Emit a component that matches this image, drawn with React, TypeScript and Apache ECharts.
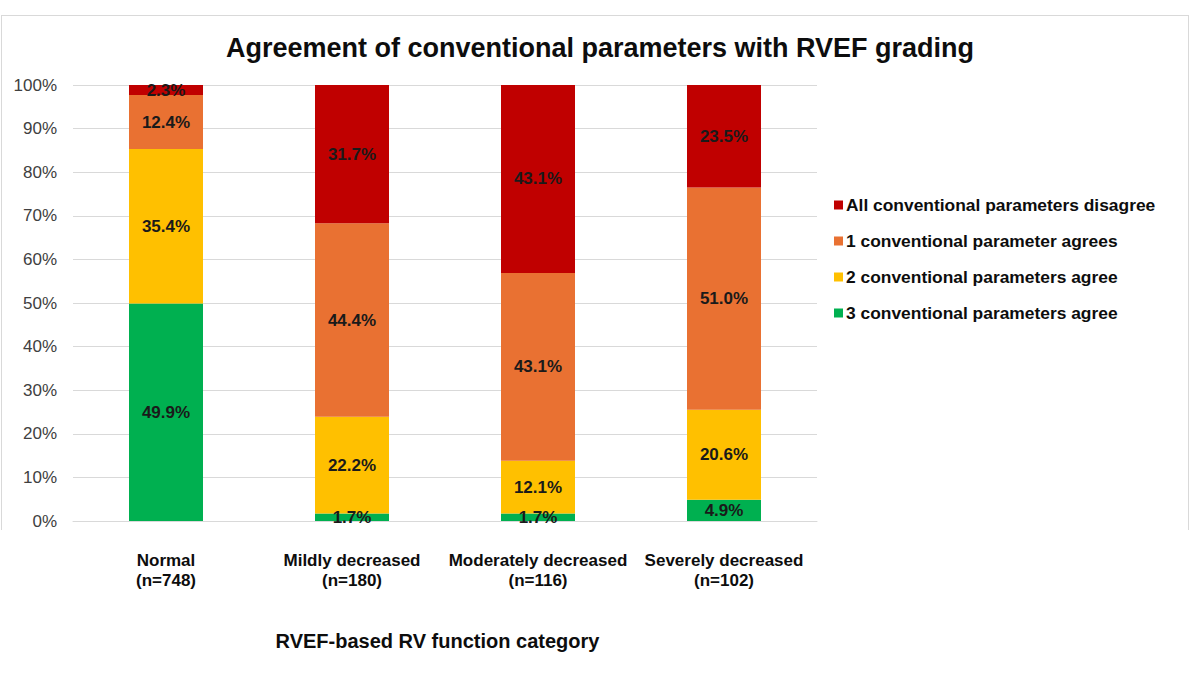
import React, { useEffect, useRef } from "react";
import * as echarts from "echarts";

const categories = [
  "Normal\n(n=748)",
  "Mildly decreased\n(n=180)",
  "Moderately decreased\n(n=116)",
  "Severely decreased\n(n=102)",
];
const threeAgree = [49.9, 1.7, 1.7, 4.9];
const twoAgree = [35.4, 22.2, 12.1, 20.6];
const oneAgrees = [12.4, 44.4, 43.1, 51.0];
const allDisagree = [2.3, 31.7, 43.1, 23.5];
const seriesNames = [
  "3 conventional parameters agree",
  "2 conventional parameters agree",
  "1 conventional parameter agrees",
  "All conventional parameters disagree",
];
const colors = ["#00B050", "#FFC000", "#E97132", "#C00000"];
const yTicks = [0, 10, 20, 30, 40, 50, 60, 70, 80, 90, 100];

const FONT = "Liberation Sans, Arial, sans-serif";

export default function App() {
  const ref = useRef<HTMLDivElement>(null);
  useEffect(() => {
    if (!ref.current) return;
    const chart = echarts.init(ref.current, null, { renderer: "svg" });
    const dataSets = [threeAgree, twoAgree, oneAgrees, allDisagree];
    chart.setOption({
      animation: false,
      backgroundColor: "#ffffff",
      textStyle: { fontFamily: FONT },
      title: {
        text: "Agreement of conventional parameters with RVEF grading",
        left: 595,
        textAlign: "center",
        top: 29,
        textStyle: { fontFamily: FONT, fontSize: 27, fontWeight: "bold", color: "#0d0d0d" },
      },
      legend: {
        orient: "vertical",
        left: 829,
        top: 190,
        icon: "rect",
        itemWidth: 9,
        itemHeight: 9,
        itemGap: 16,
        data: [seriesNames[3], seriesNames[2], seriesNames[1], seriesNames[0]],
        textStyle: { fontFamily: FONT, fontSize: 17.4, fontWeight: "bold", color: "#0d0d0d", lineHeight: 20, padding: [0, 0, 0, -2] },
      },
      grid: { left: 73, right: 383, top: 85, bottom: 154, containLabel: false },
      xAxis: {
        type: "category",
        data: categories,
        name: "RVEF-based RV function category",
        nameLocation: "middle",
        nameGap: 110,
        nameTextStyle: { fontFamily: FONT, fontSize: 20, fontWeight: "bold", color: "#0d0d0d", padding: [0, 15, 0, 0] },
        axisLine: { show: true, lineStyle: { color: "#d9d9d9", width: 1 } },
        axisTick: { show: false },
        axisLabel: {
          margin: 29,
          fontFamily: FONT,
          fontSize: 17,
          fontWeight: "bold",
          color: "#0d0d0d",
          lineHeight: 20,
          interval: 0,
        },
      },
      yAxis: {
        type: "value",
        min: 0,
        max: 100,
        interval: 10,
        axisLine: { show: false },
        axisTick: { show: false },
        splitLine: { show: true, lineStyle: { color: "#d9d9d9", width: 1 } },
        axisLabel: {
          margin: 16,
          fontFamily: FONT,
          fontSize: 17,
          color: "#404040",
          formatter: (v: number) => (yTicks.includes(v) ? v + "%" : ""),
        },
      },
      series: dataSets.map((d, i) => ({
        name: seriesNames[i],
        type: "bar",
        stack: "total",
        barWidth: 74,
        data: d,
        itemStyle: { color: colors[i] },
        label: {
          show: true,
          position: "inside",
          fontFamily: FONT,
          fontSize: 17,
          fontWeight: "bold",
          color: "#1a1a1a",
          formatter: (p: any) => p.value.toFixed(1) + "%",
        },
        labelLayout: { hideOverlap: false },
      })),
      graphic: [
        { type: "line", shape: { x1: 1, y1: 15.5, x2: 1188, y2: 15.5 }, style: { stroke: "#d9d9d9", lineWidth: 1 } },
        { type: "line", shape: { x1: 1.5, y1: 15, x2: 1.5, y2: 530 }, style: { stroke: "#d9d9d9", lineWidth: 1 } },
        { type: "line", shape: { x1: 1188.5, y1: 15, x2: 1188.5, y2: 530 }, style: { stroke: "#d9d9d9", lineWidth: 1 } },
      ],
    });
    return () => chart.dispose();
  }, []);
  return (
    <div
      ref={ref}
      style={{ position: "fixed", left: 0, top: 0, width: 1200, height: 675, background: "#fff" }}
    />
  );
}
